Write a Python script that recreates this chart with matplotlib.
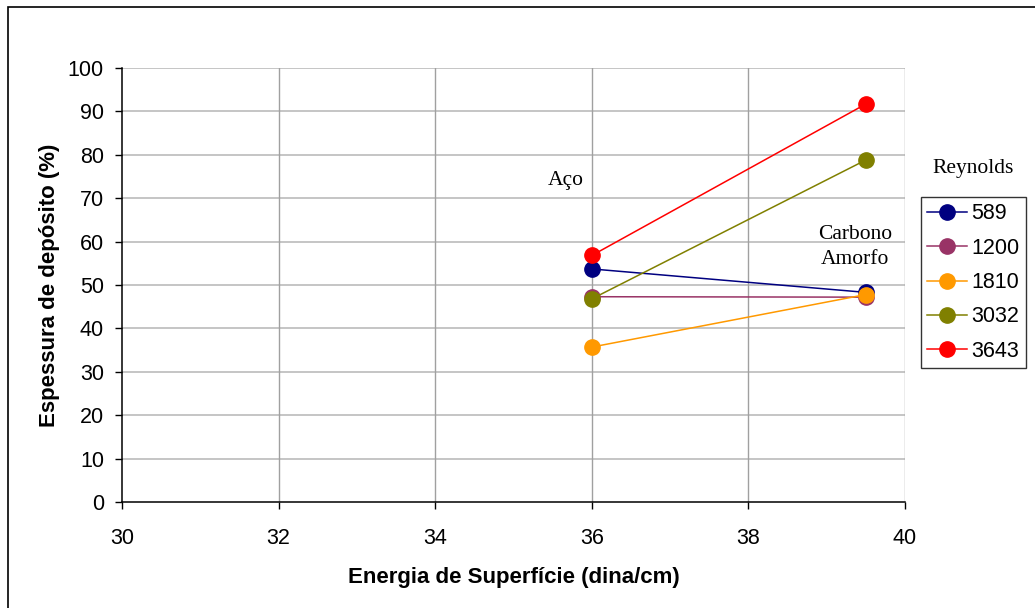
import matplotlib.pyplot as plt
from matplotlib.lines import Line2D
from matplotlib.patches import Rectangle

# Surface energy of the two materials (dina/cm)
energia = [36.0, 39.5]

# Deposit thickness (%) for each Reynolds number
reynolds = ['589', '1200', '1810', '3032', '3643']
esp_589 = [53.7, 48.3]
esp_1200 = [47.3, 47.2]
esp_1810 = [35.7, 47.8]
esp_3032 = [46.8, 78.8]
esp_3643 = [56.8, 91.7]

series = [esp_589, esp_1200, esp_1810, esp_3032, esp_3643]
cores = ['#000080', '#993366', '#FF9900', '#808000', '#FF0000']

fig = plt.figure(figsize=(10.35, 6.08), dpi=100)
ax = fig.add_axes([0.1179, 0.1743, 0.7565, 0.7139])

# Outer chart border
fig.patches.append(Rectangle((8 / 1035, -0.1), 1.2, 1 - 7 / 608 + 0.1,
                             transform=fig.transFigure, fill=False,
                             edgecolor='black', linewidth=1.2))

for ys, cor in zip(series, cores):
    ax.plot(energia, ys, color=cor, linewidth=1.1, marker='o',
            markersize=11, markerfacecolor=cor, markeredgecolor=cor, zorder=3)

ax.set_xlim(30, 40)
ax.set_ylim(0, 100)
ax.set_xticks(range(30, 41, 2))
ax.set_yticks(range(0, 101, 10))

# Gridlines
for y in range(10, 101, 10):
    ax.axhline(y, color='#c0c0c0', linewidth=1.3, zorder=1)
for x in range(32, 41, 2):
    ax.axvline(x, color='#a0a0a0', linewidth=1.0, zorder=1)

ax.spines['top'].set_visible(False)
ax.spines['right'].set_visible(False)
ax.spines['left'].set_linewidth(1.1)
ax.spines['bottom'].set_linewidth(1.1)
ax.tick_params(axis='both', direction='out', length=5, width=1.0,
               labelsize=15.5)
ax.tick_params(axis='y', pad=8)
ax.tick_params(axis='x', pad=14)
for lbl in ax.get_xticklabels() + ax.get_yticklabels():
    lbl.set_fontfamily('Liberation Sans')

ax.set_xlabel('Energia de Superfície (dina/cm)', fontsize=16,
              fontweight='bold', family='Liberation Sans', labelpad=13)
ax.set_ylabel('Espessura de depósito (%)', fontsize=16,
              fontweight='bold', family='Liberation Sans', labelpad=6)

# Material annotations
fig.text(566 / 1035, 1 - 180 / 608, 'Aço', fontsize=15.5,
         family='Liberation Serif', ha='center', va='center')
fig.text(855 / 1035, 1 - 234 / 608, 'Carbono', fontsize=15.5,
         family='Liberation Serif', ha='center', va='center')
fig.text(855 / 1035, 1 - 259 / 608, 'Amorfo', fontsize=15.5,
         family='Liberation Serif', ha='center', va='center')

# Legend
handles = [Line2D([0], [0], color=c, linewidth=1.1, marker='o', markersize=11,
                  markerfacecolor=c, markeredgecolor=c) for c in cores]
leg = fig.legend(handles, reynolds, loc='upper left',
                 bbox_to_anchor=(921 / 1035, 1 - 197 / 608),
                 frameon=True, fancybox=False, edgecolor='black',
                 prop={'family': 'Liberation Sans', 'size': 15.5},
                 handlelength=1.85, handletextpad=0.2, labelspacing=0.62,
                 borderpad=0.3, borderaxespad=0)
leg.get_frame().set_linewidth(1.0)
fig.text(973 / 1035, 1 - 168 / 608, 'Reynolds', fontsize=15.5,
         family='Liberation Serif', ha='center', va='center')

fig.savefig('out.png', dpi=100)
